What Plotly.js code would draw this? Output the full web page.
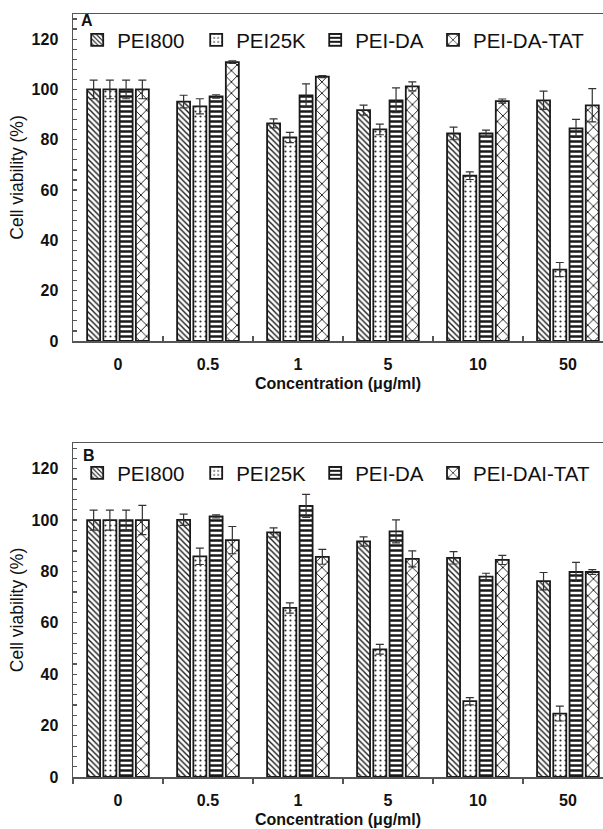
<!DOCTYPE html>
<html>
<head>
<meta charset="utf-8">
<script src="https://cdn.plot.ly/plotly-3.0.1.min.js"></script>
<style>html,body{margin:0;padding:0;background:#fff;}#chart{width:603px;height:829px;}</style>
</head>
<body>
<div id="chart"></div>
<script>
// Categories (concentration, µg/ml)
const categories = ['0', '0.5', '1', '5', '10', '50'];

// Panel A series
const namesA = ['PEI800', 'PEI25K', 'PEI-DA', 'PEI-DA-TAT'];
const pei800A = [100, 95.2, 86.5, 91.8, 82.5, 95.7];
const pei800AErr = [3.7, 2.5, 1.8, 2.0, 2.5, 3.6];
const pei25kA = [100, 93.3, 80.9, 84.1, 65.7, 28.4];
const pei25kAErr = [3.7, 3.0, 2.0, 2.1, 1.5, 2.8];
const peiDaA = [100, 97.2, 97.6, 95.7, 82.5, 84.5];
const peiDaAErr = [3.7, 0.7, 4.6, 4.9, 1.3, 3.6];
const peiDaTatA = [100, 110.9, 105.1, 101.2, 95.4, 93.7];
const peiDaTatAErr = [3.7, 0.5, 0.4, 1.8, 0.8, 6.6];

// Panel B series
const namesB = ['PEI800', 'PEI25K', 'PEI-DA', 'PEI-DAI-TAT'];
const pei800B = [100, 100.1, 95.2, 91.7, 85.3, 76.2];
const pei800BErr = [3.9, 2.2, 1.8, 1.8, 2.4, 3.4];
const pei25kB = [100, 85.9, 65.8, 49.7, 29.5, 24.7];
const pei25kBErr = [3.9, 3.2, 2.0, 1.9, 1.4, 2.9];
const peiDaB = [100, 101.4, 105.5, 95.6, 78.0, 79.8];
const peiDaBErr = [3.9, 0.6, 4.5, 4.5, 1.3, 3.7];
const peiDaTatB = [100, 92.2, 85.7, 84.9, 84.5, 79.8];
const peiDaTatBErr = [5.7, 5.3, 2.9, 3.1, 1.8, 0.9];

const patterns = [
  {shape: '\\', size: 4, solidity: 0.35, fgcolor: '#1a1a1a', bgcolor: '#fff'},
  {shape: '.', size: 5, solidity: 0.15, fgcolor: '#333', bgcolor: '#fff'},
  {shape: '-', size: 5, solidity: 0.5, fgcolor: '#1a1a1a', bgcolor: '#fff'},
  {shape: 'x', size: 8, solidity: 0.22, fgcolor: '#1a1a1a', bgcolor: '#fff'}
];

function mk(name, vals, errs, i, xa, ya, leg) {
  return {
    type: 'bar', name: name, x: categories, y: vals,
    xaxis: xa, yaxis: ya, legend: leg,
    marker: {color: '#fff', pattern: patterns[i], line: {color: '#1a1a1a', width: 1.8}},
    error_y: {type: 'data', array: errs, visible: true, color: '#333', thickness: 1.2, width: 4},
    hoverinfo: 'skip'
  };
}

const data = [
  mk(namesA[0], pei800A, pei800AErr, 0, 'x', 'y', 'legend'),
  mk(namesA[1], pei25kA, pei25kAErr, 1, 'x', 'y', 'legend'),
  mk(namesA[2], peiDaA, peiDaAErr, 2, 'x', 'y', 'legend'),
  mk(namesA[3], peiDaTatA, peiDaTatAErr, 3, 'x', 'y', 'legend3'),
  mk(namesB[0], pei800B, pei800BErr, 0, 'x2', 'y2', 'legend2'),
  mk(namesB[1], pei25kB, pei25kBErr, 1, 'x2', 'y2', 'legend2'),
  mk(namesB[2], peiDaB, peiDaBErr, 2, 'x2', 'y2', 'legend2'),
  mk(namesB[3], peiDaTatB, peiDaTatBErr, 3, 'x2', 'y2', 'legend4')
];

const tickFont = {family: 'Arial, "Liberation Sans", sans-serif', size: 16, color: '#111', weight: 'bold'};
const axisColor = '#555';

function xax(anchor, ticksDir) {
  return {
    anchor: anchor, domain: [0, 1], type: 'category',
    range: [-0.5, 5.39], showline: true, linecolor: axisColor, linewidth: 1.5, mirror: true,
    ticks: ticksDir, tickson: 'boundaries', ticklen: 5, tickcolor: axisColor, tickwidth: 1.2,
    ticklabelstandoff: 8,
    tickfont: tickFont, showgrid: false, zeroline: false,
    title: {text: 'Concentration (μg/ml)', font: tickFont, standoff: 6}
  };
}
function yax(anchor, domain) {
  return {
    anchor: anchor, domain: domain, range: [0, 130], dtick: 20,
    showline: true, linecolor: axisColor, linewidth: 1.5,
    ticks: 'inside', ticklen: 4, tickcolor: axisColor, tickwidth: 1.2,
    minor: {dtick: 4, ticks: 'inside', ticklen: 4, tickcolor: axisColor, tickwidth: 1.2, showgrid: false},
    ticklabelstandoff: 10,
    tickfont: tickFont, showgrid: false, zeroline: false,
    title: {text: 'Cell viability (%)', font: {family: 'Arial, "Liberation Sans", sans-serif', size: 17.5, color: '#111'}, standoff: 3}
  };
}

const legFont = {family: 'Arial, "Liberation Sans", sans-serif', size: 20.5, color: '#111'};
const H = 763; // plot area height in px

function leg(xpx, ypx, ew) {
  const o = {orientation: 'h', x: (xpx - 73) / 530, xanchor: 'left', y: (777 - ypx) / H, yanchor: 'middle',
    font: legFont, bgcolor: 'rgba(0,0,0,0)', borderwidth: 0, itemclick: false};
  if (ew) o.entrywidth = ew;
  return o;
}

const layout = {
  width: 603, height: 829,
  margin: {l: 73, r: 0, t: 14, b: 52},
  paper_bgcolor: '#fff', plot_bgcolor: '#fff',
  barmode: 'group', bargap: 0.278, bargroupgap: 0.2,
  xaxis: xax('y', 'inside'),
  yaxis: yax('x', [(777 - 341) / H, 1]),
  xaxis2: xax('y2', 'outside'),
  yaxis2: yax('x2', [0, (777 - 443) / H]),
  legend: leg(77.2, 40, 74),
  legend3: leg(433, 40, 0),
  legend2: leg(77.2, 473, 74),
  legend4: leg(433, 473, 0),
  annotations: [
    {text: '<b>A</b>', xref: 'paper', yref: 'paper', x: (87 - 73) / 530, y: (777 - 21) / H,
      xanchor: 'center', yanchor: 'middle', showarrow: false, font: {family: 'Arial, "Liberation Sans", sans-serif', size: 16, color: '#111'}},
    {text: '<b>B</b>', xref: 'paper', yref: 'paper', x: (89 - 73) / 530, y: (777 - 455) / H,
      xanchor: 'center', yanchor: 'middle', showarrow: false, font: {family: 'Arial, "Liberation Sans", sans-serif', size: 16, color: '#111'}}
  ],
  showlegend: true
};

Plotly.newPlot('chart', data, layout, {displayModeBar: false, staticPlot: true});
</script>
</body>
</html>
